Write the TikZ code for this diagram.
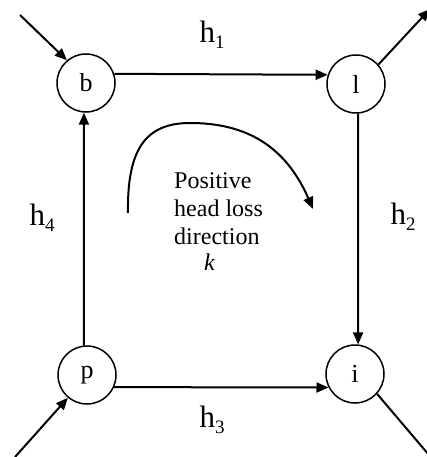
\documentclass[tikz,border=0pt]{standalone}
\usepackage{fontspec}
\setmainfont{Liberation Serif}
\usetikzlibrary{arrows.meta}
\tikzset{
  junction/.style={circle, draw, line width=1.5pt, minimum size=58pt, inner sep=0pt,
    font=\fontsize{26}{30}\selectfont},
  pipe/.style={line width=2pt, -{Triangle[length=12pt,width=10pt]}},
  plainpipe/.style={line width=2pt},
  hlabel/.style={font=\fontsize{31}{34}\selectfont, inner sep=0pt},
  txt/.style={font=\fontsize{24}{28}\selectfont, anchor=base west, inner sep=0pt}
}
\newcommand{\hsub}[1]{h\raisebox{-0.2em}{\fontsize{19}{19}\selectfont #1}}
\begin{document}
\begin{tikzpicture}[x=1pt,y=-1pt]
\useasboundingbox (0,0) rectangle (427,457);
\clip (0,0) rectangle (427,457);
\node[junction] (b) at (86,83) {b};
\node[junction] (l) at (356,84) {l};
\node[junction] (p) at (87,375) {p};
\node[junction] (i) at (355,374) {i};

\coordinate (bin) at (20,15);
\coordinate (lout) at (430,9);
\coordinate (pin) at (15,457);
\coordinate (iout) at (440,468);

\draw[pipe] (bin) -- (b.130);
\draw[pipe] (l.41) -- (lout);
\draw[pipe] (pin) -- (p.-130);
\draw[plainpipe] (i.-42) -- (iout);

\draw[pipe] (b.18) -- (l.162);
\draw[pipe] (l.-86) -- (i.84);
\draw[pipe] (p.-24) -- (i.-153);
\draw[pipe] (p.96) -- (b.-94);

\node[hlabel] (h1) at (212,35) {\hsub{1}};
\node[hlabel] (h2) at (403,217) {\hsub{2}};
\node[hlabel] (h3) at (212,420) {\hsub{3}};
\node[hlabel] (h4) at (42,218) {\hsub{4}};

\node[txt] (t1) at (174,188) {Positive};
\node[txt] (t2) at (174,216) {head loss};
\node[txt] (t3) at (174,244) {direction};
\node[txt] (t4) at (204,270) {\textit{k}};

\coordinate (cs) at (128,213);
\coordinate (ctop) at (190,123);
\coordinate (ce) at (313,209);
\draw[line width=2pt, -{Triangle[length=12pt,width=10pt]}]
  (cs) .. controls (127,150) and (145,123) .. (ctop)
  .. controls (245,123) and (285,145) .. (ce);
\end{tikzpicture}
\end{document}
